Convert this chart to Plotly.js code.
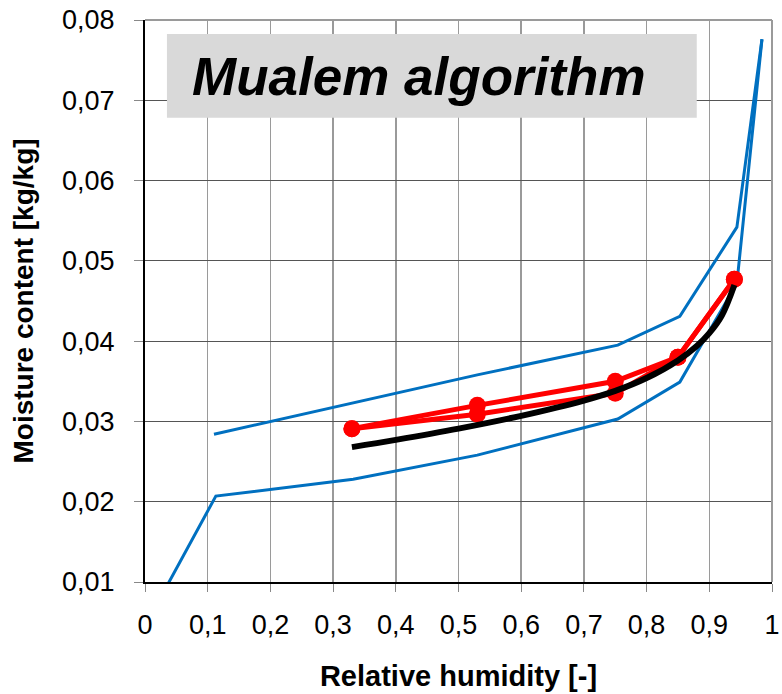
<!DOCTYPE html>
<html>
<head>
<meta charset="utf-8">
<script src="https://cdn.plot.ly/plotly-3.0.1.min.js"></script>
<style>html,body{margin:0;padding:0;background:#fff}</style>
</head>
<body>
<div id="chart" style="width:782px;height:694px"></div>
<script>
// Upper and lower bounds of the sorption band
const upperRH = [0.11, 0.53, 0.754, 0.853, 0.944, 0.984];
const upperMC = [0.0284, 0.0358, 0.0395, 0.0431, 0.0542, 0.0776];
const lowerRH = [0.03, 0.113, 0.332, 0.53, 0.754, 0.853, 0.944, 0.984];
const lowerMC = [0.0088, 0.0207, 0.0228, 0.0258, 0.0303, 0.0349, 0.0472, 0.0776];

// Measured points: adsorption and desorption branches
const adsRH = [0.33, 0.53, 0.75, 0.85, 0.94];
const adsMC = [0.0291, 0.0320, 0.0350, 0.0380, 0.0477];
const desRH = [0.94, 0.85, 0.75, 0.53, 0.33];
const desMC = [0.0477, 0.0380, 0.0335, 0.0309, 0.0291];

// Mualem model curve
const modelRH = [0.33, 0.4, 0.5, 0.6, 0.7, 0.75, 0.8, 0.85, 0.88, 0.9, 0.92, 0.94];
const modelMC = [0.0268, 0.0277, 0.0291, 0.0307, 0.0326, 0.0338, 0.0354, 0.0376, 0.0394, 0.0410, 0.0432, 0.0470];

const xTicks = [0, 0.1, 0.2, 0.3, 0.4, 0.5, 0.6, 0.7, 0.8, 0.9, 1];
const yTicks = [0.01, 0.02, 0.03, 0.04, 0.05, 0.06, 0.07, 0.08];

const blue = '#0070c0';
const red = '#ff0000';

const traces = [
  {x: upperRH, y: upperMC, mode: 'lines', line: {color: blue, width: 3}},
  {x: lowerRH, y: lowerMC, mode: 'lines', line: {color: blue, width: 3}},
  {x: adsRH, y: adsMC, mode: 'lines+markers', line: {color: red, width: 5}, marker: {color: red, size: 17}},
  {x: desRH, y: desMC, mode: 'lines+markers', line: {color: red, width: 5}, marker: {color: red, size: 17}},
  {x: modelRH, y: modelMC, mode: 'lines', line: {color: '#000', width: 6, shape: 'spline'}}
];

const font = {family: 'Liberation Sans, Arial, sans-serif', color: '#000'};
const f = s => Object.assign({size: s}, font);

const layout = {
  width: 782, height: 694,
  margin: {l: 145, r: 10, t: 20, b: 112},
  paper_bgcolor: '#fff', plot_bgcolor: '#fff',
  showlegend: false,
  separators: ',.',
  font: f(27),
  xaxis: {
    range: [0, 1], tickvals: xTicks,
    showgrid: true, gridcolor: '#9a9a9a', gridwidth: 1.5,
    zeroline: false, showline: true, linecolor: '#000', linewidth: 2,
    ticks: 'outside', ticklen: 8, tickcolor: '#888', tickwidth: 1,
    ticklabelstandoff: 10,
    tickfont: f(27),
    title: {text: '<b>Relative humidity [-]</b>', font: f(29), standoff: 26}
  },
  yaxis: {
    range: [0.01, 0.08], tickvals: yTicks, tickformat: '.2f',
    showgrid: true, gridcolor: '#555', gridwidth: 1.2,
    zeroline: false, showline: true, linecolor: '#000', linewidth: 2,
    ticks: 'outside', ticklen: 9, tickcolor: '#888', tickwidth: 1,
    ticklabelstandoff: 14,
    tickfont: f(27),
    title: {text: '<b>Moisture content [kg/kg]</b>', font: f(28), standoff: 20}
  },
  shapes: [
    // grey border at the top and right of the plot area
    {type: 'line', xref: 'paper', yref: 'paper', x0: 0, x1: 1, y0: 1, y1: 1, line: {color: '#9a9a9a', width: 2}},
    {type: 'line', xref: 'paper', yref: 'paper', x0: 1, x1: 1, y0: 0, y1: 1, line: {color: '#9a9a9a', width: 2}},
    // title box
    {type: 'rect', xref: 'paper', yref: 'paper', x0: 0.035, x1: 0.880, y0: 0.826, y1: 0.975,
     fillcolor: '#d9d9d9', line: {width: 0}, layer: 'above'}
  ],
  annotations: [
    {xref: 'paper', yref: 'paper', x: 0.072, y: 0.900, xanchor: 'left', yanchor: 'middle',
     text: '<b><i>Mualem algorithm</i></b>', showarrow: false,
     font: f(53)}
  ]
};

Plotly.newPlot('chart', traces, layout, {displayModeBar: false, staticPlot: true});
</script>
</body>
</html>
